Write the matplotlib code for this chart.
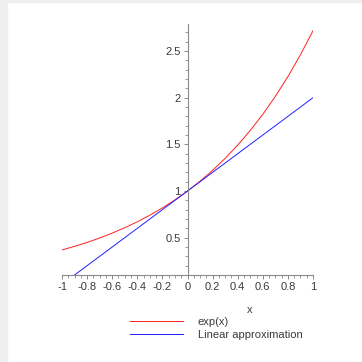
import matplotlib
matplotlib.use("Agg")
import matplotlib.pyplot as plt
import matplotlib.patches as patches
from matplotlib.ticker import MultipleLocator, FuncFormatter

plt.rcParams['font.family'] = ['Liberation Sans', 'DejaVu Sans']
plt.rcParams['axes.unicode_minus'] = False

# values
x_exp = [-1.0, -0.9, -0.8, -0.7, -0.6, -0.5, -0.4, -0.3, -0.2, -0.1, 0.0,
         0.1, 0.2, 0.3, 0.4, 0.5, 0.6, 0.7, 0.8, 0.9, 1.0]
y_exp = [0.368, 0.407, 0.449, 0.497, 0.549, 0.607, 0.670, 0.741, 0.819, 0.905, 1.0,
         1.105, 1.221, 1.350, 1.492, 1.649, 1.822, 2.014, 2.226, 2.460, 2.718]
x_lin = [-1.0, 1.0]
y_lin = [0.0, 2.0]
labels = ['exp(x)', 'Linear approximation']

W = 362
fig = plt.figure(figsize=(3.62, 3.62), dpi=100)
ax = fig.add_axes([62 / W, 1 - 275 / W, 251 / W, 251 / W])

l1, = ax.plot(x_exp, y_exp, color='#ff2020', lw=0.7)
l2, = ax.plot(x_lin, y_lin, color='#2020ff', lw=0.7)

ax.set_xlim(-1, 1)
ax.set_ylim(0.10, 2.79)

axis_col = '#8a8a8a'
txt_col = '#3a3a3a'
ax.spines['top'].set_visible(False)
ax.spines['right'].set_visible(False)
ax.spines['left'].set_position(('data', 0))
for s in ['left', 'bottom']:
    ax.spines[s].set_color(axis_col)
    ax.spines[s].set_linewidth(0.8)

fmt = FuncFormatter(lambda v, pos: '%g' % round(v, 2))
ax.xaxis.set_major_locator(MultipleLocator(0.2))
ax.xaxis.set_minor_locator(MultipleLocator(0.05))
ax.xaxis.set_major_formatter(fmt)
ax.yaxis.set_minor_locator(MultipleLocator(0.1))
ax.set_yticks([0.5, 1, 1.5, 2, 2.5])
ax.yaxis.set_major_formatter(fmt)
ax.tick_params(which='major', length=3, width=0.7, color=axis_col,
               labelsize=8, labelcolor=txt_col, pad=2)
ax.tick_params(which='minor', length=2, width=0.6, color=axis_col)

ax.set_xlabel('x', fontsize=8, color=txt_col, va='center')
ax.xaxis.set_label_coords((250 - 62) / 251, -(310 - 275) / 251)

fig.legend([l1, l2], labels, loc='upper left', bbox_to_anchor=(130 / W, 1 - 317 / W),
           frameon=False, fontsize=8, handlelength=4.8, handletextpad=1.3,
           labelspacing=0.3, borderpad=0, borderaxespad=0, labelcolor=txt_col)

# light gray frame strips at the image edges
fig.patches.append(patches.Rectangle((0, 0), 7 / W, 1, transform=fig.transFigure,
                                     color='#efefef', zorder=-1))
fig.patches.append(patches.Rectangle((0, 1 - 2 / W), 1, 2 / W, transform=fig.transFigure,
                                     color='#efefef', zorder=-1))

fig.savefig('out.png', dpi=100)
